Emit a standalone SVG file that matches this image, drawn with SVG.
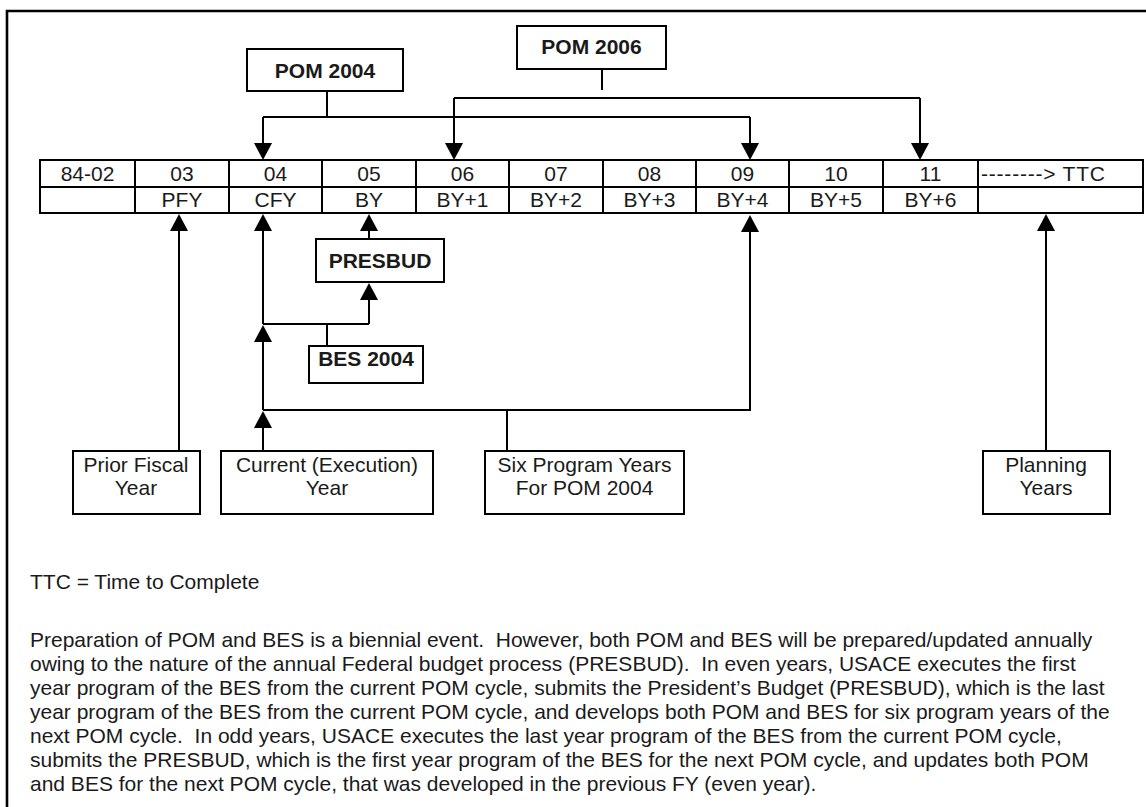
<svg xmlns="http://www.w3.org/2000/svg" width="1146" height="807" viewBox="0 0 1146 807">
<style>
text{font-family:"Liberation Sans",Arial,sans-serif;font-size:21px;fill:#1a1a1a}
.b{font-weight:bold}
.c{text-anchor:middle}
.box{fill:#fff;stroke:#000;stroke-width:2}
.ln{fill:none;stroke:#000;stroke-width:2}
.ar{fill:none;stroke:#000;stroke-width:2;marker-end:url(#ah)}
.tb{fill:none;stroke:#000;stroke-width:2}
</style>
<defs>
<marker id="ah" markerUnits="userSpaceOnUse" markerWidth="17" markerHeight="18" viewBox="0 0 17 18" refX="0" refY="9" orient="auto">
<path d="M0,0 L17,9 L0,18 z" fill="#000"/>
</marker>
</defs>
<rect width="1146" height="807" fill="#fff"/>
<g id="frame">
<path d="M7,807 V11 H1146" fill="none" stroke="#000" stroke-width="2.6"/>
</g>
<g id="table">
<rect class="tb" x="40" y="160" width="1103" height="53"/>
<path class="tb" d="M40,187 H1143 M135,160 V213 M229,160 V213 M322,160 V213 M416,160 V213 M509,160 V213 M603,160 V213 M696,160 V213 M789,160 V213 M883,160 V213 M978,160 V213"/>
<text class="c" x="87.5" y="181">84-02</text>
<text class="c" x="182" y="181">03</text>
<text class="c" x="275.5" y="181">04</text>
<text class="c" x="369" y="181">05</text>
<text class="c" x="462.5" y="181">06</text>
<text class="c" x="556" y="181">07</text>
<text class="c" x="649.5" y="181">08</text>
<text class="c" x="742.5" y="181">09</text>
<text class="c" x="836" y="181">10</text>
<text class="c" x="930.5" y="181">11</text>
<text x="981" y="181" textLength="124" lengthAdjust="spacing">--------&gt; TTC</text>
<text class="c" x="182" y="207">PFY</text>
<text class="c" x="275.5" y="207">CFY</text>
<text class="c" x="369" y="207">BY</text>
<text class="c" x="462.5" y="207">BY+1</text>
<text class="c" x="556" y="207">BY+2</text>
<text class="c" x="649.5" y="207">BY+3</text>
<text class="c" x="742.5" y="207">BY+4</text>
<text class="c" x="836" y="207">BY+5</text>
<text class="c" x="930.5" y="207">BY+6</text>
</g>
<g id="connectors">
<path class="ln" d="M327,91 V117 M263,117 H750"/>
<path class="ar" d="M263,117 V143"/>
<path class="ar" d="M750,117 V143"/>
<path class="ln" d="M602,69 V90 M454,98 H920"/>
<path class="ar" d="M454,98 V143"/>
<path class="ar" d="M920,98 V143"/>
<path class="ar" d="M179,451 V231"/>
<path class="ar" d="M263,324 V231"/>
<path class="ln" d="M327,346 V324 M263,324 H369"/>
<path class="ar" d="M369,324 V300"/>
<path class="ar" d="M369,239 V231"/>
<path class="ar" d="M263,410 V342"/>
<path class="ar" d="M263,451 V428"/>
<path class="ar" d="M263,410 H750 V232"/>
<path class="ln" d="M507,451 V410"/>
<path class="ar" d="M1046,451 V231"/>
</g>
<g id="pom2004">
<rect class="box" x="247" y="49" width="156" height="42"/>
<text class="c b" x="325" y="78">POM 2004</text>
</g>
<g id="pom2006">
<rect class="box" x="517" y="26" width="149" height="43"/>
<text class="c b" x="591.5" y="54">POM 2006</text>
</g>
<g id="presbud">
<rect class="box" x="316" y="239" width="128" height="43"/>
<text class="c b" x="380" y="268">PRESBUD</text>
</g>
<g id="bes2004">
<rect class="box" x="309" y="346" width="114" height="37"/>
<text class="c b" x="366" y="366">BES 2004</text>
</g>
<g id="prior">
<rect class="box" x="73" y="451" width="127" height="63"/>
<text class="c" x="136" y="472">Prior Fiscal</text>
<text class="c" x="136" y="495">Year</text>
</g>
<g id="current">
<rect class="box" x="221" y="451" width="212" height="63"/>
<text class="c" x="327" y="472">Current (Execution)</text>
<text class="c" x="327" y="495">Year</text>
</g>
<g id="six">
<rect class="box" x="485" y="451" width="199" height="63"/>
<text class="c" x="584.5" y="472">Six Program Years</text>
<text class="c" x="584.5" y="495">For POM 2004</text>
</g>
<g id="planning">
<rect class="box" x="983" y="451" width="127" height="63"/>
<text class="c" x="1046" y="472">Planning</text>
<text class="c" x="1046" y="495">Years</text>
</g>
<g id="notes">
<text x="30" y="589">TTC = Time to Complete</text>
<text x="30" y="647" xml:space="preserve">Preparation of POM and BES is a biennial event.  However, both POM and BES will be prepared/updated annually</text>
<text x="30" y="671" xml:space="preserve">owing to the nature of the annual Federal budget process (PRESBUD).  In even years, USACE executes the first</text>
<text x="30" y="695" xml:space="preserve">year program of the BES from the current POM cycle, submits the President’s Budget (PRESBUD), which is the last</text>
<text x="30" y="719" xml:space="preserve">year program of the BES from the current POM cycle, and develops both POM and BES for six program years of the</text>
<text x="30" y="743" xml:space="preserve">next POM cycle.  In odd years, USACE executes the last year program of the BES from the current POM cycle,</text>
<text x="30" y="767" xml:space="preserve">submits the PRESBUD, which is the first year program of the BES for the next POM cycle, and updates both POM</text>
<text x="30" y="791" xml:space="preserve">and BES for the next POM cycle, that was developed in the previous FY (even year).</text>
</g>
</svg>
